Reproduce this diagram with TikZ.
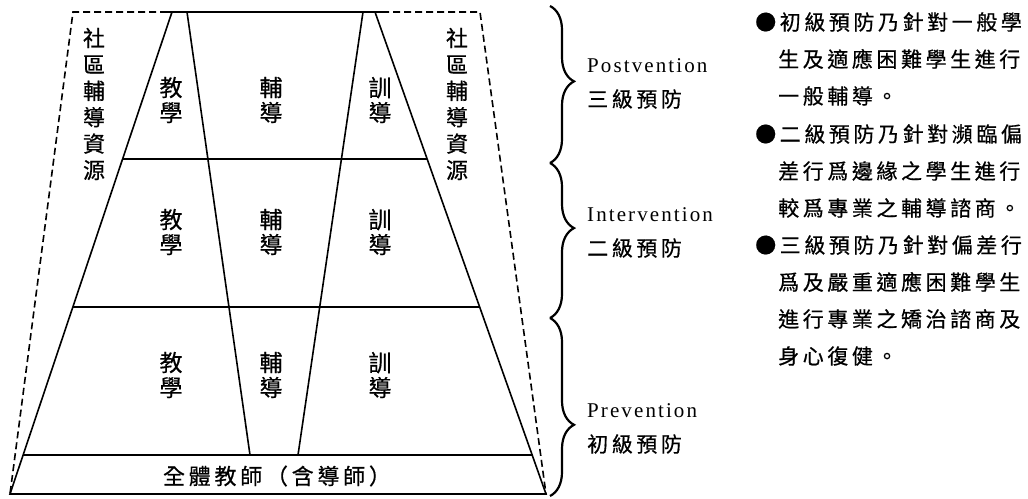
\documentclass[tikz,border=0pt]{standalone}
\usepackage{fontspec}
\setmainfont{Liberation Serif}
\newfontfamily\cjk[LetterSpace=17,FakeBold=0.6]{Noto Sans CJK TC}
\newfontfamily\cjkv[FakeBold=0.6]{Noto Sans CJK TC}
\newfontfamily\latsp[LetterSpace=10]{Liberation Serif}
\usetikzlibrary{decorations.pathreplacing,calc}
\begin{document}
\begin{tikzpicture}[x=1pt,y=-1pt,
  solidline/.style={line width=1.6pt},
  dashline/.style={line width=1.6pt,dash pattern=on 7pt off 4pt},
  vt/.style={font=\cjkv\fontsize{23}{25}\selectfont,align=center,inner sep=0pt},
  vtl/.style={font=\cjkv\fontsize{22}{26.4}\selectfont,align=center,inner sep=0pt},
  rt/.style={font=\cjk\fontsize{21}{21}\selectfont,anchor=west,inner sep=0pt},
  lat/.style={font=\latsp\fontsize{21}{21}\selectfont,anchor=west,inner sep=0pt},
  bracestyle/.style={decorate,line width=2.2pt}]
\useasboundingbox (0,0) rectangle (1028,498);
% pyramid corners
\coordinate (TL) at (172,12);
\coordinate (TR) at (375,12);
\coordinate (BL) at (10,494);
\coordinate (BR) at (546,494);
\coordinate (IL1) at (187,12);
\coordinate (IL2) at (250,455);
\coordinate (IR1) at (363,12);
\coordinate (IR2) at (298,455);
\coordinate (DTL) at (73,12);
\coordinate (DTR) at (480,12);
\coordinate (STL) at (167,12);
\coordinate (STR) at (382,12);
% dashed outer frame
\draw[dashline] (STL) -- (DTL) -- (BL);
\draw[dashline] (STR) -- (DTR) -- (BR);
% solid pyramid
\draw[solidline] (STL) -- (STR);
\draw[solidline] (TL) -- (BL) -- (BR) -- (TR);
\draw[solidline] (IL1) -- (IL2);
\draw[solidline] (IR1) -- (IR2);
\draw[solidline] ($(TL)!0.305!(BL)$) -- ($(TR)!0.305!(BR)$);
\draw[solidline] ($(TL)!0.612!(BL)$) -- ($(TR)!0.612!(BR)$);
\draw[solidline] ($(TL)!0.919!(BL)$) -- ($(TR)!0.919!(BR)$);
% side labels
\node[vtl] (cl) at (94,104) {社\\區\\輔\\導\\資\\源};
\node[vtl] (cr) at (457,104) {社\\區\\輔\\導\\資\\源};
% cells
\node[vt] (a1) at (171,100) {教\\學};
\node[vt] (b1) at (271,100) {輔\\導};
\node[vt] (c1) at (380,100) {訓\\導};
\node[vt] (a2) at (171,232) {教\\學};
\node[vt] (b2) at (271,232) {輔\\導};
\node[vt] (c2) at (380,232) {訓\\導};
\node[vt] (a3) at (171,375) {教\\學};
\node[vt] (b3) at (271,375) {輔\\導};
\node[vt] (c3) at (380,375) {訓\\導};
\node[font=\cjk\fontsize{22}{22}\selectfont,inner sep=0pt] (base) at (277,476) {全體教師（含導師）};
% braces
\coordinate (b1t) at (550,6);
\coordinate (b1b) at (550,163);
\coordinate (b2t) at (550,163);
\coordinate (b2b) at (550,318);
\coordinate (b3t) at (550,318);
\coordinate (b3b) at (550,496);
\draw[bracestyle,decoration={brace,amplitude=24pt,aspect=0.48}] (b1t) -- (b1b);
\draw[bracestyle,decoration={brace,amplitude=24pt,aspect=0.42}] (b2t) -- (b2b);
\draw[bracestyle,decoration={brace,amplitude=24pt,aspect=0.60}] (b3t) -- (b3b);
% level labels
\node[lat] (p1) at (587,66) {Postvention};
\node[rt] (p2) at (587,99) {三級預防};
\node[lat] (i1) at (587,215) {Intervention};
\node[rt] (i2) at (587,248) {二級預防};
\node[lat] (v1) at (587,411) {Prevention};
\node[rt] (v2) at (587,444) {初級預防};
% bullet text
\node[rt] (r1) at (755,22) {●初級預防乃針對一般學};
\node[rt] (r2) at (778,59) {生及適應困難學生進行};
\node[rt] (r3) at (778,96) {一般輔導。};
\node[rt] (r4) at (755,134) {●二級預防乃針對瀕臨偏};
\node[rt] (r5) at (778,171) {差行爲邊緣之學生進行};
\node[rt] (r6) at (778,208) {較爲專業之輔導諮商。};
\node[rt] (r7) at (755,245) {●三級預防乃針對偏差行};
\node[rt] (r8) at (778,282) {爲及嚴重適應困難學生};
\node[rt] (r9) at (778,319) {進行專業之矯治諮商及};
\node[rt] (r10) at (778,356) {身心復健。};
\end{tikzpicture}
\end{document}
